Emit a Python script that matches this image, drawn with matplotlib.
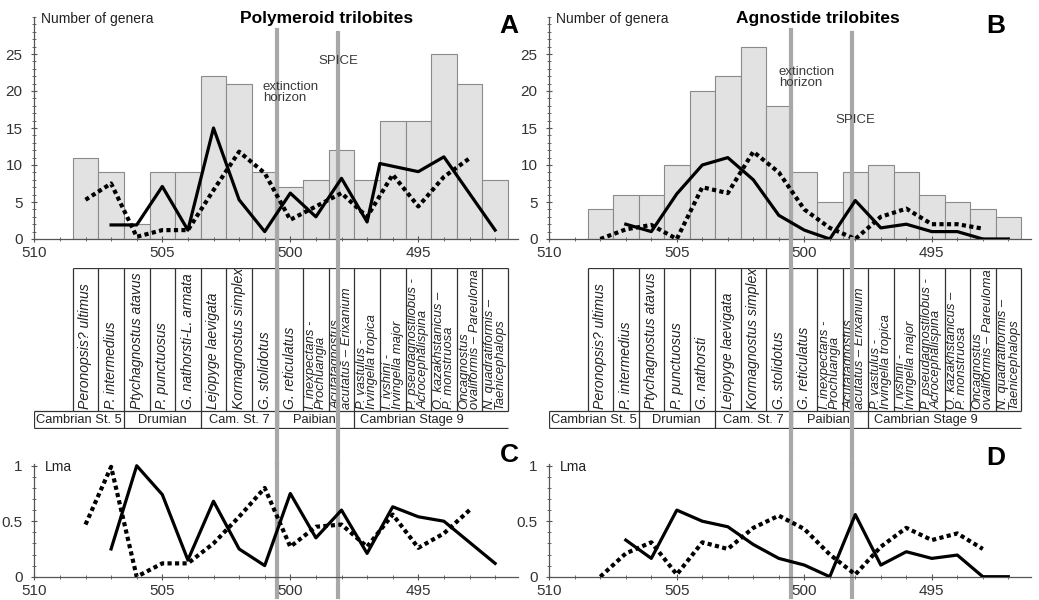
import numpy as np
import matplotlib.pyplot as plt
from matplotlib.ticker import MultipleLocator, FixedLocator, FixedFormatter

plt.rcParams['font.family'] = ['Liberation Sans', 'DejaVu Sans']

# ---- data (ages in Ma) ----
bar_ages = [508, 507, 506, 505, 504, 503, 502, 501, 500, 499, 498, 497, 496, 495, 494, 493, 492]
poly_genera = [11, 9, 2, 9, 9, 22, 21, 9, 7, 8, 12, 8, 16, 16, 25, 21, 8]
agno_genera = [4, 6, 6, 10, 20, 22, 26, 18, 9, 5, 9, 10, 9, 6, 5, 4, 3]

poly_solid_age = [507, 506, 505, 504, 503, 502, 501, 500, 499, 498, 497, 496.5, 495, 494, 492]
poly_solid = [1.9, 1.9, 7.1, 1.2, 15, 5.3, 1.0, 6.2, 3.0, 8.2, 2.3, 10.2, 9.1, 11.1, 1.2]
poly_dot_age = [508, 507, 506, 505, 504, 503, 502, 501, 500, 499, 498, 497, 496, 495, 494, 493]
poly_dot = [5.3, 7.5, 0.3, 1.2, 1.2, 6.6, 11.8, 8.9, 2.6, 4.4, 6.2, 3.0, 8.7, 4.4, 8.4, 10.9]

agno_solid_age = [507, 506, 505, 504, 503, 502, 501, 500, 499, 498, 497, 496, 495, 494, 493, 492]
agno_solid = [2.0, 1.0, 6.1, 10, 11, 8, 3.2, 1.2, 0, 5.2, 1.5, 2.0, 1.0, 1.0, 0, 0]
agno_dot_age = [508, 507, 506, 505, 504, 503, 502, 501, 500, 499, 498, 497, 496, 495, 494, 493]
agno_dot = [0, 1.3, 1.9, 0, 7.0, 6.2, 11.8, 9.0, 4.0, 1.5, 0, 3.0, 4.1, 2.0, 2.0, 1.4]

poly_lma_solid_age = [507, 506, 505, 504, 503, 502, 501, 500, 499, 498, 497, 496, 495, 494, 492]
poly_lma_solid = [0.25, 1.0, 0.74, 0.15, 0.68, 0.25, 0.10, 0.75, 0.35, 0.60, 0.21, 0.63, 0.54, 0.50, 0.12]
poly_lma_dot_age = [508, 507, 506, 505, 504, 503, 502, 501, 500, 499, 498, 497, 496, 495, 494, 493]
poly_lma_dot = [0.47, 0.99, 0.0, 0.12, 0.12, 0.30, 0.54, 0.80, 0.27, 0.45, 0.47, 0.27, 0.56, 0.26, 0.39, 0.60]

agno_lma_solid_age = [507, 506, 505, 504, 503, 502, 501, 500, 499, 498, 497, 496, 495, 494, 493, 492]
agno_lma_solid = [0.33, 0.165, 0.60, 0.50, 0.45, 0.29, 0.165, 0.105, 0.0, 0.56, 0.105, 0.225, 0.165, 0.195, 0.0, 0.0]
agno_lma_dot_age = [508, 507, 506, 505, 504, 503, 502, 501, 500, 499, 498, 497, 496, 495, 494, 493]
agno_lma_dot = [0.0, 0.21, 0.31, 0.02, 0.31, 0.25, 0.44, 0.55, 0.43, 0.20, 0.02, 0.27, 0.44, 0.33, 0.39, 0.25]

poly_zones = ["Peronopsis? ultimus", "P. intermedius", "Ptychagnostus atavus", "P. punctuosus",
              "G. nathorsti-L. armata", "Lejopyge laevigata", "Kormagnostus simplex", "G. stolidotus",
              "G. reticulatus", "I. inexpectans -\nProchuangia", "Acutatagnostus\nacutatus – Erixanium",
              "P. vastulus -\nIrvingella tropica", "I. ivshini -\nIrvingella major",
              "P. pseudagnostilobus -\nAcrocephalispina", "O. kazakhstanicus –\nP. monstruosa",
              "Oncagnostus\novaliformis – Pareuloma", "N. quadratiformis –\nTaenicephalops"]
agno_zones = list(poly_zones)
agno_zones[4] = "G. nathorsti"

stage_names = ["Cambrian St. 5", "Drumian", "Cam. St. 7", "Paibian", "Cambrian Stage 9"]
stage_bounds = [510, 506.5, 503.5, 500.5, 497.5]
stage_label_x = [508.25, 505, 502, 499.05, 495.25]

event_ages = [500.53, 498.14]   # extinction horizon, SPICE

# ---- layout (pixels) ----
W, H = 1039, 600
fig = plt.figure(figsize=(W / 100, H / 100), dpi=100)
XMAX = 491.1
GRAY = '#a8a8a8'
AXC = '#555555'


def px_axes(left, top, right, bottom):
    return fig.add_axes([left / W, 1 - bottom / H, (right - left) / W, (bottom - top) / H])


def style_axis(ax, ymax, ymajor, yminor, ylabels=None):
    ax.set_xlim(510, XMAX)
    ax.set_ylim(0, ymax)
    ax.set_facecolor('none')
    for s in ['top', 'right']:
        ax.spines[s].set_visible(False)
    for s in ['left', 'bottom']:
        ax.spines[s].set_color(AXC)
        ax.spines[s].set_linewidth(0.9)
    ax.xaxis.set_major_locator(FixedLocator([510, 505, 500, 495]))
    ax.xaxis.set_minor_locator(MultipleLocator(1))
    ax.yaxis.set_major_locator(FixedLocator(ymajor))
    ax.yaxis.set_minor_locator(MultipleLocator(yminor))
    if ylabels is not None:
        ax.yaxis.set_major_formatter(FixedFormatter(ylabels))
    ax.tick_params(which='major', direction='inout', length=5, width=0.8, color=AXC,
                   labelsize=11, labelcolor='#333333')
    ax.tick_params(axis='x', which='major', pad=2.5)
    ax.tick_params(axis='y', which='major', pad=6)
    ax.tick_params(which='minor', direction='inout', length=3, width=0.6, color=AXC)


def top_panel(left, right, counts, s_age, s_val, d_age, d_val, title, letter,
              ext_xy, spice_xy, title_x, letter_x):
    ax = px_axes(left, 17, right, 239)
    style_axis(ax, 30, [0, 5, 10, 15, 20, 25], 1)
    ax.bar(bar_ages, counts, width=1, color='#e2e2e2', edgecolor='#8a8a8a', linewidth=0.8, zorder=1)
    for age, top_px in zip(event_ages, [30, 33]):
        ax.axvline(age, ymin=0, ymax=(239 - top_px) / 222, color=GRAY, lw=3, zorder=1.5)
    ax.plot(d_age, d_val, color='black', lw=3, linestyle=(0, (1, 0.8)), zorder=3)
    ax.plot(s_age, s_val, color='black', lw=2.3, zorder=4)
    ax.text(509.75, 29.7, 'Number of genera', fontsize=10, color='#222222', ha='left', va='center')
    ax.text(title_x, 29.8, title, fontsize=12.5, fontweight='bold', ha='center', va='center')
    ax.text(letter_x, 28.8, letter, fontsize=19, fontweight='bold', ha='center', va='center')
    ax.text(ext_xy[0], ext_xy[1], 'extinction\nhorizon', fontsize=9.5, color='#3a3a3a',
            ha='left', va='top', linespacing=0.9)
    ax.text(spice_xy[0], spice_xy[1], 'SPICE', fontsize=9.5, color='#3a3a3a', ha='left', va='top')
    return ax


def table_panel(left, right, zones):
    ax = px_axes(left, 268.3, right, 428.5)
    ax.set_xlim(510, XMAX)
    ax.set_ylim(428.5, 268.3)
    ax.axis('off')
    top, mid, bot = 268.3, 410.8, 428.5
    edges = [a + 0.5 for a in bar_ages] + [bar_ages[-1] - 0.5]
    lc = '#333333'
    ax.hlines([top, mid], edges[0], edges[-1], color=lc, lw=0.9)
    ax.vlines(edges, top, mid, color=lc, lw=0.9)
    ax.hlines(mid, stage_bounds[0], edges[0], color=lc, lw=0.9)
    ax.hlines(bot, stage_bounds[0], edges[-1], color=lc, lw=0.9)
    ax.vlines(stage_bounds, mid, bot, color=lc, lw=0.9)
    for age, name in zip(bar_ages, zones):
        two = '\n' in name
        ax.text(age, mid - 2, name, rotation=90, ha='center', va='bottom', style='italic',
                fontsize=9.4 if two else 10.1, linespacing=0.82, multialignment='left',
                color='#222222')
    for x, name in zip(stage_label_x, stage_names):
        ax.text(x, (mid + bot) / 2 + 0.5, name, ha='center', va='center', fontsize=9.3, color='#222222')
    for age in event_ages:
        ax.plot([age, age], [239, 463.5], color=GRAY, lw=3, clip_on=False, zorder=5)
    return ax


def lma_panel(left, right, s_age, s_val, d_age, d_val, letter, letter_xy):
    ax = px_axes(left, 463.5, right, 576.7)
    style_axis(ax, 1.02, [0, 0.5, 1], 0.1, ['0', '0.5', '1'])
    for age in event_ages:
        ax.axvline(age, ymin=-0.18, ymax=1, color=GRAY, lw=3, zorder=1.5, clip_on=False)
    ax.plot(d_age, d_val, color='black', lw=3, linestyle=(0, (1, 0.8)), zorder=3)
    ax.plot(s_age, s_val, color='black', lw=2.3, zorder=4)
    ax.text(509.6, 0.99, 'Lma', fontsize=10, color='#222222', ha='left', va='center')
    ax.text(letter_xy[0], letter_xy[1], letter, fontsize=19, fontweight='bold', ha='center', va='center')
    return ax


L_A, R_A = 34.3, 34.3 + (510 - XMAX) * 25.6
L_B, R_B = 549.3, 549.3 + (510 - XMAX) * 25.5

top_panel(L_A, R_A, poly_genera, poly_solid_age, poly_solid, poly_dot_age, poly_dot,
          'Polymeroid trilobites', 'A', (501.07, 21.3), (498.92, 24.9), 498.6, 491.45)
top_panel(L_B, R_B, agno_genera, agno_solid_age, agno_solid, agno_dot_age, agno_dot,
          'Agnostide trilobites', 'B', (501.0, 23.4), (498.76, 16.9), 499.45, 492.5)

table_panel(L_A, R_A, poly_zones)
table_panel(L_B, R_B, agno_zones)

lma_panel(L_A, R_A, poly_lma_solid_age, poly_lma_solid, poly_lma_dot_age, poly_lma_dot,
          'C', (491.45, 1.10))
lma_panel(L_B, R_B, agno_lma_solid_age, agno_lma_solid, agno_lma_dot_age, agno_lma_dot,
          'D', (492.5, 1.07))

fig.savefig('out.png', dpi=100, facecolor='white')
